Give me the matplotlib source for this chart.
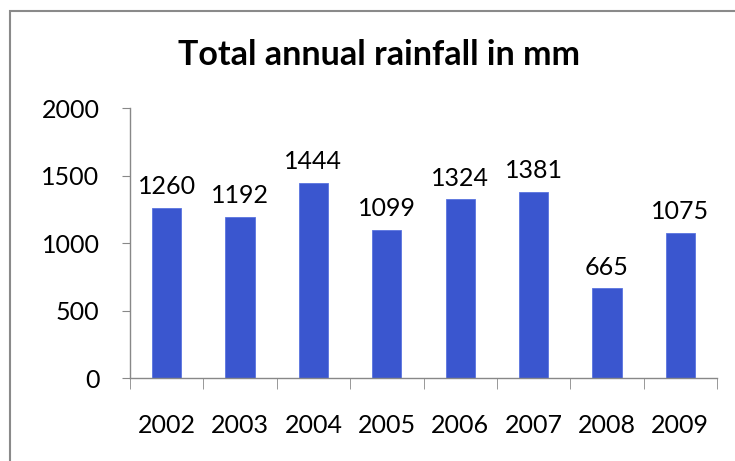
import numpy as np
import matplotlib.pyplot as plt
from matplotlib.patches import Rectangle

years = ['2002', '2003', '2004', '2005', '2006', '2007', '2008', '2009']
rainfall = [1260, 1192, 1444, 1099, 1324, 1381, 665, 1075]
yticks = [0, 500, 1000, 1500, 2000]

plt.rcParams['font.family'] = ['Lato', 'DejaVu Sans']

fig = plt.figure(figsize=(7.35, 4.61), dpi=100)
ax = fig.add_axes([0.1769, 0.18, 0.7986, 0.5857])

x = np.arange(len(years))
bars = ax.bar(x, rainfall, width=0.4, color='#3a56cf', edgecolor='#5a74e0', linewidth=0.6)

for b, v in zip(bars, rainfall):
    ax.annotate(str(v), (b.get_x() + b.get_width() / 2, v), xytext=(0, 7),
                textcoords='offset points', ha='center', va='bottom', fontsize=18)

ax.set_xlim(-0.5, len(years) - 0.5)
ax.set_ylim(0, 2000)
ax.set_yticks(yticks)
ax.set_yticklabels([str(t) for t in yticks], fontsize=18)
ax.set_xticks(x)
ax.set_xticklabels(years, fontsize=18)
ax.set_xticks(np.arange(-0.5, len(years)), minor=True)
ax.tick_params(axis='x', which='major', length=0, pad=26)
ax.tick_params(axis='x', which='minor', length=8, color='#888888', direction='out')
ax.tick_params(axis='y', length=6, color='#888888', pad=16)

for s in ['top', 'right']:
    ax.spines[s].set_visible(False)
for s in ['left', 'bottom']:
    ax.spines[s].set_color('#888888')
    ax.spines[s].set_linewidth(1.0)

fig.text(0.515, 0.88, 'Total annual rainfall in mm', ha='center', va='center',
         fontsize=24.5, fontweight='bold')

fig.patches.append(Rectangle((10 / 735, -0.1), 1.2, 1 - 11 / 461 + 0.1,
                             transform=fig.transFigure, fill=False,
                             edgecolor='#8a8a8a', linewidth=1.5))

fig.savefig('out.png', dpi=100)
